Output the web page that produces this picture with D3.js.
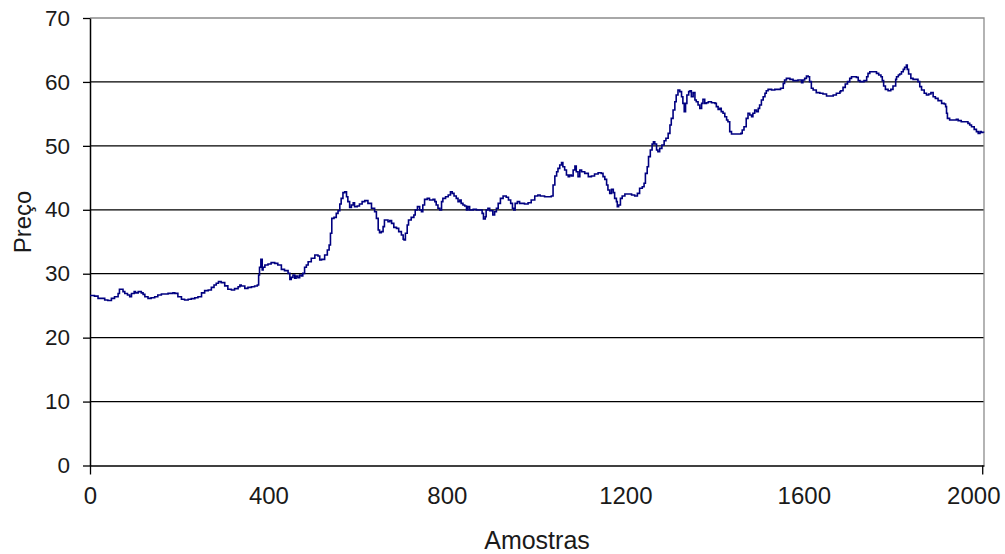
<!DOCTYPE html>
<html><head><meta charset="utf-8">
<script src="https://cdn.jsdelivr.net/npm/d3@7"></script>
<style>
html,body{margin:0;padding:0;background:#fff;}
text{font-family:Arial,"Liberation Sans",sans-serif;fill:#1a1a1a;}
</style></head>
<body>
<svg id="c" width="1005" height="554"></svg>
<script>
// ---- data ----
const yTicks = [0,10,20,30,40,50,60,70];
const xLabels = [0,400,800,1200,1600,2000];
const xTickMarks = [0,2000];
const xTitle = "Amostras";
const yTitle = "Preço";
// [amostra, preço]
const serie = [
[0,26.6],[10,26.5],[18,26.15],[25,26.15],[33,25.9],[40,25.8],[48,26.15],[55,26.4],[63,26.9],[66,27.56],[70,27.56],[74,27.2],[78,26.9],[84,26.67],[89,26.4],[93,26.9],[99,27.2],[102,27.0],[108,27.2],[115,27.0],[119,26.77],[123,26.4],[130,26.15],[137,26.25],[145,26.4],[152,26.67],[160,26.83],[167,26.83],[175,26.93],[182,26.93],[186,27.03],[190,26.93],[197,26.4],[205,26.0],[212,25.9],[220,26.0],[227,26.1],[235,26.25],[242,26.4],[250,27.0],[257,27.35],[265,27.45],[272,27.87],[278,28.23],[283,28.5],[288,28.76],[294,28.6],[302,28.1],[309,27.56],[317,27.45],[324,27.66],[332,27.97],[336,28.23],
[339,28.08],[347,27.71],[354,27.87],[362,27.97],[369,28.08],[375,28.23],[378,29.8],[380,31.0],[383,32.25],[386,30.58],[388,31.0],[392,31.36],[399,31.52],[406,31.73],[414,31.62],[421,31.36],[429,30.68],[436,30.48],[444,30.06],[448,29.12],[451,29.43],[455,29.8],[459,29.28],[462,29.64],[466,29.38],[470,29.8],[474,29.64],[477,30.06],[481,31.0],[485,31.36],[489,31.88],[496,32.41],[504,32.93],[511,32.77],[515,32.14],[519,32.25],[526,32.93],[532,33.71],[536,34.49],[539,36.32],[542,38.66],[547,38.82],[552,39.44],[556,39.86],[560,40.9],[563,41.79],[567,42.68],[571,42.83],[575,42.05],[578,41.27],[582,40.38],[586,40.75],[590,41.11],[593,40.49],[599,40.59],[604,40.9],[610,41.27],[616,41.43],[623,41.01],[631,40.23],[638,39.7],[642,38.66],[646,36.84],[649,36.42],[653,36.58],[657,37.36],[660,38.4],[668,38.14],[672,38.3],
[676,37.88],[681,37.25],[687,37.1],[692,36.58],[698,36.05],[702,35.38],[704,35.27],[707,36.32],[711,37.62],[714,38.4],[720,38.82],[726,39.18],[729,39.97],[734,40.49],[739,39.97],[743,39.7],[746,40.75],[750,41.63],[756,41.79],[761,41.53],[769,41.63],[773,41.27],[776,40.75],[780,40.23],[784,39.97],[788,41.27],[791,41.79],[797,42.05],[803,42.31],[808,42.83],[812,42.57],[816,42.16],[821,41.79],[825,41.27],[829,41.53],[832,41.01],[836,40.75],[840,40.59],[844,39.97],[847,40.49],[851,39.97],[859,40.07],[866,39.97],[874,39.97],[879,39.44],[882,38.56],[886,38.92],[888,39.97],[892,40.23],[896,39.86],[900,39.86],[903,39.18],[907,39.7],[911,40.23],[915,41.01],[920,41.79],[926,42.16],[933,41.95],[938,41.53],[943,41.01],[947,40.23],[950,39.97],[953,41.01],[958,41.27],[963,41.01],[967,41.01],[974,40.9],[982,41.11],[989,41.53],[997,42.16],[1004,42.31],[1009,42.16],
[1012,42.16],[1019,42.05],[1027,42.05],[1034,42.16],[1038,43.88],[1042,45.28],[1046,45.96],[1049,46.48],[1053,47.0],[1057,47.37],[1060,46.74],[1064,46.22],[1068,45.44],[1072,45.18],[1075,45.44],[1079,45.28],[1083,46.22],[1087,46.85],[1090,45.96],[1094,45.18],[1098,46.22],[1102,45.96],[1109,45.7],[1117,45.18],[1124,45.28],[1131,45.6],[1139,45.8],[1146,45.7],[1150,45.18],[1154,44.76],[1158,43.88],[1161,43.09],[1165,42.57],[1169,43.2],[1173,42.68],[1176,41.79],[1180,41.27],[1182,40.49],[1185,40.75],[1189,41.79],[1193,42.16],[1199,42.47],[1206,42.47],[1214,42.31],[1221,42.16],[1227,42.57],[1232,43.36],[1238,43.61],[1242,44.14],[1245,45.7],[1249,46.74],[1252,48.31],[1256,49.35],[1260,50.29],[1263,50.65],[1266,50.29],[1270,49.35],[1273,49.09],[1277,49.61],[1282,50.13],[1287,50.81],[1291,51.18],[1296,51.96],[1300,53.26],[1303,54.3],[1307,55.61],[1311,56.91],[1314,57.95],[1318,58.74],[1322,58.48],[1326,57.69],[1329,56.65],[1332,55.35],[1335,56.65],[1338,57.95],[1342,58.48],[1345,58.63],
[1348,57.69],[1352,58.32],[1356,57.17],[1359,56.91],[1363,56.39],[1367,55.87],[1371,56.65],[1374,57.28],[1378,56.65],[1382,56.75],[1386,56.91],[1393,56.75],[1401,56.65],[1404,56.13],[1408,55.71],[1412,55.87],[1415,55.35],[1419,55.09],[1423,54.56],[1427,54.04],[1430,53.78],[1434,52.22],[1438,51.85],[1445,51.85],[1453,51.85],[1459,51.96],[1462,52.48],[1466,53.0],[1471,54.3],[1475,55.09],[1479,54.83],[1483,54.56],[1486,55.09],[1490,55.61],[1494,55.35],[1498,55.87],[1501,56.39],[1505,57.17],[1509,57.69],[1513,58.22],[1516,58.63],[1520,58.84],[1528,58.74],[1535,58.84],[1542,58.84],[1548,59.0],[1554,59.78],[1557,60.3],[1561,60.56],[1569,60.4],[1576,60.2],[1584,60.2],[1587,60.3],[1595,59.88],[1598,60.3],[1602,60.56],[1606,60.93],[1610,60.82],[1613,60.04],[1617,59.0],[1621,58.74],[1628,58.32],[1636,58.22],[1643,58.11],[1651,57.8],[1658,57.8],[1666,57.95],[1673,58.22],[1681,58.48],
[1683,58.63],[1688,59.15],[1693,59.67],[1698,60.04],[1703,60.56],[1707,60.82],[1713,60.82],[1718,60.72],[1722,60.2],[1726,60.04],[1729,60.04],[1735,60.2],[1741,60.82],[1744,61.34],[1748,61.6],[1755,61.6],[1763,61.34],[1768,61.08],[1773,60.82],[1776,60.2],[1779,59.36],[1783,58.84],[1789,58.63],[1795,58.84],[1800,59.36],[1806,60.4],[1808,60.82],[1812,61.08],[1815,61.24],[1819,61.6],[1823,61.97],[1826,62.28],[1830,62.65],[1832,61.97],[1835,61.24],[1840,60.56],[1845,60.4],[1853,60.4],[1856,60.04],[1860,59.26],[1864,58.74],[1870,58.22],[1875,57.95],[1880,58.11],[1885,58.32],[1890,57.69],[1895,57.43],[1901,57.07],[1909,56.65],[1915,56.55],[1918,56.13],[1920,55.09],[1922,54.3],[1927,54.04],[1935,54.04],[1942,54.15],[1946,53.94],[1953,53.78],[1961,53.78],[1968,53.52],[1972,53.26],[1976,53.0],[1982,52.58],[1987,52.22],[1991,51.96],[1995,52.22],[1998,52.11],[2003,52.06]
];

// ---- layout ----
const L=90, R=984, T=18, B=465.5;
const svg = d3.select("#c");
const x = d3.scaleLinear().domain([0,2004]).range([L,R]);
const y = d3.scaleLinear().domain([0,70]).range([B,T]);
const FONT = 'Arial,"Liberation Sans",sans-serif';

// gridlines
svg.append("g").selectAll("line").data(yTicks.filter(v=>v>0 && v<70)).join("line")
  .attr("x1",L).attr("x2",R).attr("y1",d=>y(d)).attr("y2",d=>y(d))
  .attr("stroke","#000").attr("stroke-width",1.3);
// plot border (top/right) gray
svg.append("path").attr("d",`M${L},${y(70)}H${R}V${B}`).attr("fill","none")
  .attr("stroke","#8c8c8c").attr("stroke-width",1.3);

// y axis
const ya = svg.append("g").attr("transform",`translate(${L},0)`)
  .call(d3.axisLeft(y).tickValues(yTicks).tickSize(7).tickSizeOuter(0).tickPadding(13).tickFormat(d3.format("d")));
ya.select(".domain").attr("stroke","#000").attr("stroke-width",1.5);
ya.selectAll(".tick line").attr("stroke","#000").attr("stroke-width",1.3);
ya.selectAll("text").attr("font-size",22.5).attr("font-family",FONT).attr("fill","#1a1a1a");

// x axis line + tick marks
const xa = svg.append("g").attr("transform",`translate(0,${B})`)
  .call(d3.axisBottom(x).tickValues(xTickMarks).tickSize(9).tickSizeOuter(0).tickFormat(""));
xa.select(".domain").attr("stroke","#000").attr("stroke-width",1.5);
xa.selectAll(".tick line").attr("stroke","#000").attr("stroke-width",1.3);
// x labels
const xl = svg.append("g").attr("transform",`translate(0,${B})`)
  .call(d3.axisBottom(x).tickValues(xLabels).tickSize(0).tickPadding(21).tickFormat(d3.format("d")));
xl.select(".domain").remove();
xl.selectAll("text").attr("font-size",24).attr("font-family",FONT).attr("fill","#1a1a1a")
  .filter(d=>d===xLabels[xLabels.length-1]).attr("text-anchor","end").attr("x",1000-x(2000));

// series line
svg.append("path").datum(serie)
  .attr("d", d3.line().x(d=>x(d[0])).y(d=>y(d[1])).curve(d3.curveStepAfter))
  .attr("fill","none").attr("stroke","#000080").attr("stroke-width",1.6);

// titles
svg.append("text").attr("x",537).attr("y",549).attr("text-anchor","middle")
  .attr("font-size",25).attr("font-family",FONT).text(xTitle);
svg.append("text").attr("transform","translate(31,222) rotate(-90)").attr("text-anchor","middle")
  .attr("font-size",24).attr("font-family",FONT).text(yTitle);
</script>
</body></html>
